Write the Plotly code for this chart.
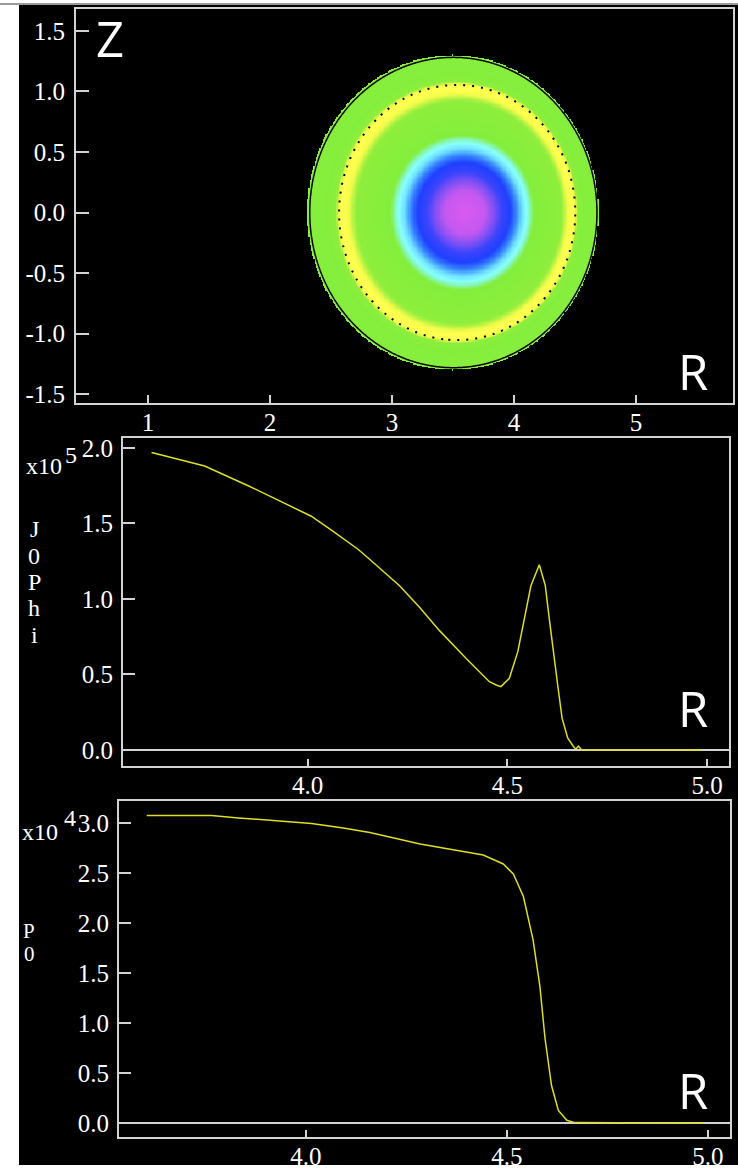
import numpy as np
import plotly.graph_objects as go

W, H = 738, 1170

# ---------------- data ----------------
# Panel 2: toroidal current density J0Phi (units of 1e5) vs R
J_R = [3.609, 3.742, 3.855, 3.938, 4.009, 4.063, 4.126, 4.155, 4.23, 4.28, 4.33,
       4.397, 4.455, 4.472, 4.484, 4.505, 4.526, 4.5425, 4.559, 4.58, 4.595, 4.605,
       4.615, 4.626, 4.637, 4.651, 4.665, 4.671, 4.678, 4.686, 4.985]
J_VAL = [1.97, 1.88, 1.745, 1.64, 1.548, 1.449, 1.329, 1.263, 1.087, 0.945, 0.79,
         0.605, 0.452, 0.43, 0.419, 0.474, 0.649, 0.868, 1.088, 1.226, 1.088, 0.868,
         0.649, 0.43, 0.21, 0.079, 0.024, 0.005, 0.025, 0.0, 0.0]

# Panel 3: pressure P0 (units of 1e4) vs R
P_R = [3.604, 3.765, 3.832, 3.935, 4.014, 4.093, 4.159, 4.284, 4.375, 4.441, 4.491,
       4.516, 4.541, 4.565, 4.582, 4.595, 4.611, 4.628, 4.649, 4.669, 4.988]
P_VAL = [3.08, 3.08, 3.055, 3.025, 2.998, 2.955, 2.91, 2.793, 2.726, 2.684, 2.594,
         2.494, 2.269, 1.838, 1.373, 0.843, 0.378, 0.129, 0.030, 0.007, 0.0]

# Panel 1 geometry
AXIS_R = 3.60        # magnetic axis R
AXIS_Z = 0.0
EDGE_CENTER_R = 3.50  # centre of boundary ellipse
EDGE_HALF_R = 1.195   # boundary half-width in R
EDGE_HALF_Z = 1.30    # boundary half-height in Z
R_CLIP = 4.595        # 2D map shows J only inside this radius of the profile
RING_RHO = 0.81       # dotted ring
EDGE_LINE_RHO = 0.985

# tick labels
P1_XTICKS = [1, 2, 3, 4, 5]
P1_XTEXT = ["1", "2", "3", "4", "5"]
P1_YTICKS = [-1.5, -1.0, -0.5, 0.0, 0.5, 1.0, 1.5]
P1_YTEXT = ["-1.5", "-1.0", "-0.5", "0.0", "0.5", "1.0", "1.5"]
R_TICKS = [4.0, 4.5, 5.0]
R_TEXT = ["4.0", "4.5", "5.0"]
J_TICKS = [0.0, 0.5, 1.0, 1.5, 2.0]
J_TEXT = ["0.0", "0.5", "1.0", "1.5", "2.0"]
P_TICKS = [0.0, 0.5, 1.0, 1.5, 2.0, 2.5, 3.0]
P_TEXT = ["0.0", "0.5", "1.0", "1.5", "2.0", "2.5", "3.0"]

# ---------------- 2D field built from the profile ----------------
Rg = np.round(np.arange(2.25, 4.76, 0.01), 3)
Zg = np.round(np.arange(-1.36, 1.37, 0.01), 3)
RR, ZZ = np.meshgrid(Rg, Zg)
shift = AXIS_R - EDGE_CENTER_R


def f(rho):
    c = AXIS_R - shift * rho ** 2
    return ((RR - c) / EDGE_HALF_R) ** 2 + ((ZZ - AXIS_Z) / EDGE_HALF_Z) ** 2 - rho ** 2


lo = np.zeros_like(RR)
hi = np.full_like(RR, 2.0)
for _ in range(45):
    mid = 0.5 * (lo + hi)
    pos = f(mid) > 0
    lo = np.where(pos, mid, lo)
    hi = np.where(pos, hi, mid)
rho = 0.5 * (lo + hi)
r_out = AXIS_R - shift * rho ** 2 + EDGE_HALF_R * rho
J2 = np.interp(np.minimum(r_out, R_CLIP), J_R, J_VAL)
J2 = np.where(rho <= 1.0, J2, np.nan)

CS = [
    [0.00, "#000000"],
    [0.15, "#d0e040"],
    [0.21, "#ffff50"],
    [0.245, "#f0fb4a"],
    [0.28, "#b4f242"],
    [0.31, "#8eee3c"],
    [0.62, "#84ee3c"],
    [0.655, "#86f6b0"],
    [0.685, "#88ffff"],
    [0.72, "#70e0ff"],
    [0.76, "#3c90ff"],
    [0.80, "#1e40ff"],
    [0.845, "#3c44fc"],
    [0.885, "#8450f4"],
    [0.925, "#c058f0"],
    [1.00, "#e05af0"],
]

FRAME = "#d2d2d2"
LINE = "#dede22"
SERIF = "Liberation Serif"
SANS = "Open Sans"


def px(x):
    return x / W


def py(y):
    return 1 - y / H


fig = go.Figure()
fig.add_trace(go.Heatmap(x=Rg, y=Zg, z=J2, zmin=0, zmax=2.0, colorscale=CS,
                         showscale=False, zsmooth=False, hoverinfo="skip",
                         xaxis="x", yaxis="y"))
fig.add_trace(go.Contour(x=Rg, y=Zg, z=rho, autocontour=False,
                         contours=dict(start=RING_RHO, end=RING_RHO, size=0.1, coloring="none"),
                         line=dict(color="black", width=2, dash="2px,7px"),
                         showscale=False, hoverinfo="skip", xaxis="x", yaxis="y"))
fig.add_trace(go.Contour(x=Rg, y=Zg, z=rho, autocontour=False,
                         contours=dict(start=EDGE_LINE_RHO, end=EDGE_LINE_RHO, size=0.1, coloring="none"),
                         line=dict(color="black", width=1.5),
                         showscale=False, hoverinfo="skip", xaxis="x", yaxis="y"))
fig.add_trace(go.Scatter(x=J_R, y=J_VAL, mode="lines", line=dict(color=LINE, width=1.5),
                         xaxis="x2", yaxis="y2", hoverinfo="skip"))
fig.add_trace(go.Scatter(x=P_R, y=P_VAL, mode="lines", line=dict(color=LINE, width=1.5),
                         xaxis="x3", yaxis="y3", hoverinfo="skip"))

tickfont = dict(family=SERIF, size=25, color="white")


def ax(domain, rng, vals, text, ticklen, anchor, standoff, zeroline=False):
    return dict(domain=domain, range=rng, tickvals=vals, ticktext=text,
                ticks="inside", ticklen=ticklen, tickwidth=2, tickcolor=FRAME,
                showline=True, mirror=True, linecolor=FRAME, linewidth=2,
                showgrid=False, zeroline=zeroline, zerolinecolor=FRAME, zerolinewidth=2,
                tickfont=tickfont, anchor=anchor, fixedrange=True,
                ticklabelstandoff=standoff)


layout = dict(
    width=W, height=H, margin=dict(l=0, r=0, t=0, b=0),
    paper_bgcolor="white", plot_bgcolor="black", showlegend=False,
    xaxis=ax([px(76), px(733)], [0.41, 5.795], P1_XTICKS, P1_XTEXT, 8, "y", -4),
    yaxis=ax([py(403), py(6)], [-1.574, 1.68], P1_YTICKS, P1_YTEXT, 13, "x", 4),
    xaxis2=ax([px(123), px(729)], [3.5375, 5.055], R_TICKS, R_TEXT, 7, "y2", -4),
    yaxis2=ax([py(768), py(438)], [-0.105, 2.066], J_TICKS, J_TEXT, 12, "x2", 3, True),
    xaxis3=ax([px(119), px(730)], [3.535, 5.055], R_TICKS, R_TEXT, 7, "y3", -4),
    yaxis3=ax([py(1142), py(803)], [-0.139, 3.229], P_TICKS, P_TEXT, 12, "x3", 3, True),
)
fig.update_layout(**layout)

fig.add_shape(type="rect", xref="paper", yref="paper", x0=px(19), x1=1, y0=0, y1=py(2),
              fillcolor="black", line=dict(width=0), layer="below")
fig.add_shape(type="rect", xref="paper", yref="paper", x0=0, x1=1, y0=py(2), y1=1,
              fillcolor="#9a9a9a", line=dict(width=0), layer="below")


def note(text, x, y, font, xanchor="left"):
    fig.add_annotation(text=text, x=px(x), y=py(y), xref="paper", yref="paper",
                       xanchor=xanchor, yanchor="middle", showarrow=False, font=font,
                       borderpad=0)


big = dict(family=SANS, size=49, color="white")
serif = dict(family=SERIF, size=24, color="white")
serif_small = dict(family=SERIF, size=21, color="white")

note("Z", 95, 35, big)
note("R", 677, 371, big)
note("R", 677, 710, big)
note("R", 677, 1094, big)

note("x10", 25, 466, serif)
note("5", 64, 455, serif)
for i, ch in enumerate(["J", "0", "P", "h", "i"]):
    note(ch, 34, 530 + 26.5 * i, serif, "center")

note("x10", 21, 835, serif)
note("4", 63, 821, serif)
for i, ch in enumerate(["P", "0"]):
    note(ch, 29, 934 + 23.5 * i, serif_small, "center")

fig.write_html("out.html")
